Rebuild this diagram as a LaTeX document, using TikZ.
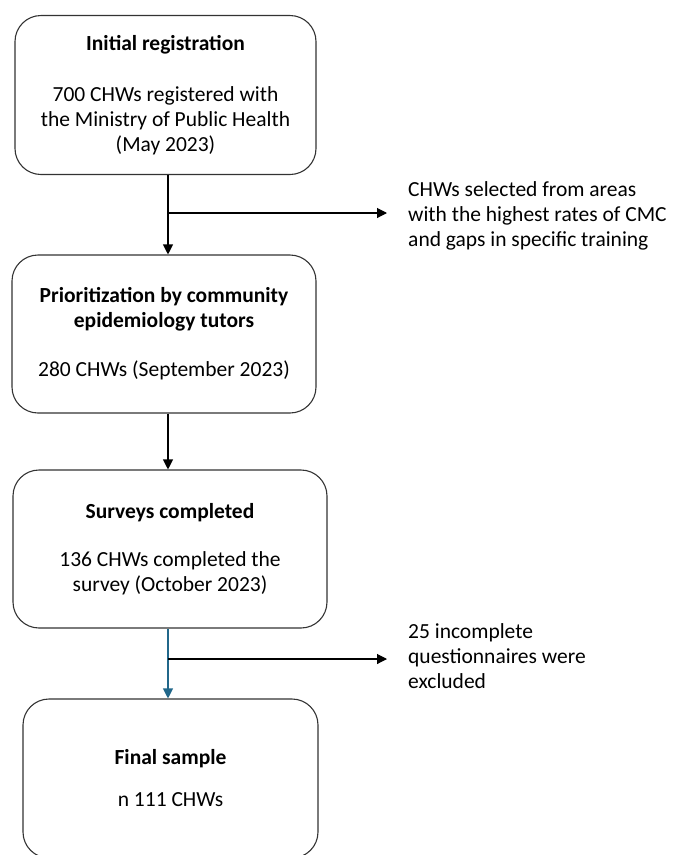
\documentclass[tikz,border=0pt]{standalone}
\usepackage{fontspec}
\setmainfont{Carlito}
\usetikzlibrary{arrows.meta}
\definecolor{linkblue}{HTML}{21678A}
\tikzset{
  stage/.style={draw=black!80,line width=1.1pt,rounded corners=26pt,align=center,inner sep=0pt},
  note/.style={align=left,anchor=west,inner sep=0pt},
  flow/.style={-{Triangle[width=10pt,length=10pt]},line width=1.1pt},
}
\newcommand{\boxfont}{\fontsize{21.5}{25}\selectfont}

\begin{document}
\begin{tikzpicture}[x=1pt,y=-1pt,font=\boxfont]
\useasboundingbox (0,0) rectangle (673,855);
\coordinate (spine) at (168,0);
\node[stage,minimum width=301pt,minimum height=159pt] (reg) at (165.5,95)
  {\textbf{Initial registration}\\[26pt]700 CHWs registered with\\the Ministry of Public Health\\(May 2023)};
\node[stage,minimum width=304pt,minimum height=158pt] (prio) at (164,334)
  {\textbf{Prioritization by community}\\\textbf{epidemiology tutors}\\[24pt]280 CHWs (September 2023)};
\node[stage,minimum width=314pt,minimum height=158pt] (surv) at (170,549)
  {\textbf{Surveys completed}\\[23pt]136 CHWs completed the\\survey (October 2023)};
\node[stage,minimum width=295pt,minimum height=159pt] (final) at (170.5,778.5)
  {\textbf{Final sample}\\[17pt]n 111 CHWs};
\node[note] (sel) at (408,216)
  {CHWs selected from areas\\with the highest rates of CMC\\and gaps in specific training};
\node[note] (excl) at (408,656.5)
  {25 incomplete\\questionnaires were\\excluded};
\coordinate (b1) at (168,213);
\coordinate (b2) at (168,659);
\draw[flow] (reg.south -| spine) -- (prio.north -| spine);
\draw[flow] (b1) -- ([xshift=-21pt]sel.west |- b1);
\draw[flow] (prio.south -| spine) -- (surv.north -| spine);
\draw[flow,linkblue] (surv.south -| spine) -- (final.north -| spine);
\draw[flow] (b2) -- ([xshift=-21pt]excl.west |- b2);
\end{tikzpicture}
\end{document}
